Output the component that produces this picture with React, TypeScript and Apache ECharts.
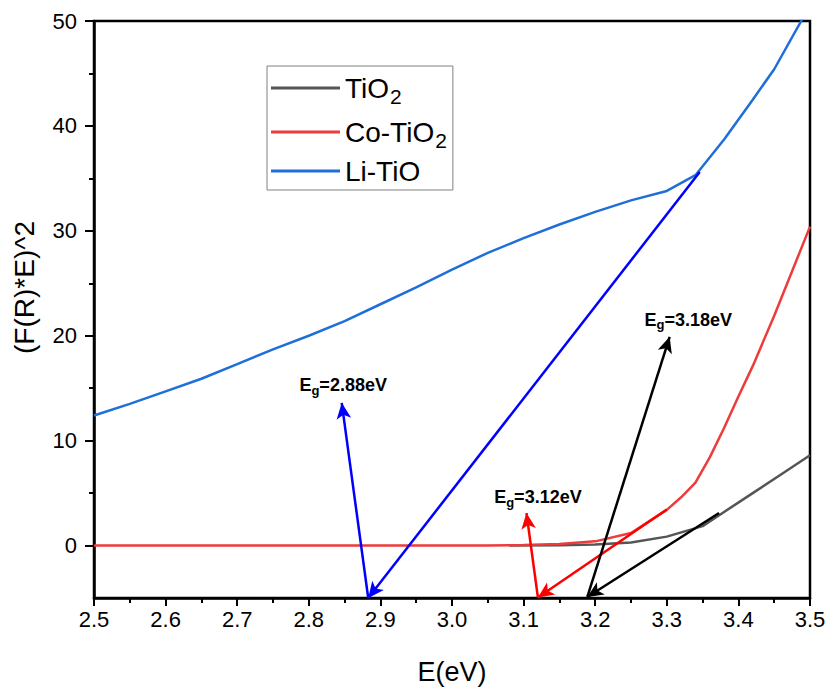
import React, { useEffect, useRef } from 'react';
import * as echarts from 'echarts';

// Li-TiO
const liE = [2.50, 2.55, 2.60, 2.65, 2.70, 2.75, 2.80, 2.85, 2.90, 2.95, 3.00, 3.05, 3.10, 3.15, 3.20, 3.25, 3.30, 3.34, 3.38, 3.42, 3.45, 3.50];
const liY = [12.4, 13.5, 14.7, 15.9, 17.3, 18.7, 20.0, 21.4, 23.0, 24.6, 26.3, 27.9, 29.3, 30.6, 31.8, 32.9, 33.8, 35.3, 38.7, 42.5, 45.4, 51.5];
// Co-TiO2
const coE = [2.50, 2.60, 2.70, 2.80, 2.90, 3.00, 3.05, 3.10, 3.15, 3.20, 3.25, 3.30, 3.32, 3.34, 3.36, 3.38, 3.40, 3.42, 3.45, 3.50];
const coY = [0, 0, 0, 0, 0, 0, 0, 0.05, 0.15, 0.4, 1.2, 3.4, 4.6, 6.0, 8.4, 11.2, 14.2, 17.1, 21.9, 30.4];
// TiO2
const tiE = [3.08, 3.15, 3.20, 3.25, 3.30, 3.35, 3.38, 3.42, 3.46, 3.50];
const tiY = [0, 0.02, 0.1, 0.3, 0.85, 1.85, 3.2, 5.0, 6.8, 8.6];

const seriesNames = ['TiO2', 'Co-TiO2', 'Li-TiO'];

// annotation arrows: [x1, y1, x2, y2] (arrowhead at x2,y2)
const blueArrows = [[3.346, 35.6, 2.883, -5.0], [2.883, -5.0, 2.846, 13.6]];
const redArrows = [[3.300, 3.43, 3.120, -4.95], [3.120, -4.95, 3.104, 3.1]];
const blackArrows = [[3.373, 3.1, 3.189, -4.9], [3.189, -4.9, 3.304, 19.9]];

// band gap labels
const gapLabelE = [2.848, 3.120, 3.330];
const gapLabelY = [15.3, 4.6, 21.5];
const gapLabelText = ['2.88', '3.12', '3.18'];

const xTicksMajor = 0.1;
const yMajorTicks = [0, 10, 20, 30, 40, 50];
const yMinorTicks = [5, 15, 25, 35, 45];

const zip = (a: number[], b: number[]) => a.map((v, i) => [v, b[i]]);

const arrowItems = (arr: number[][], color: string) =>
  arr.map(([x1, y1, x2, y2]) => [
    { coord: [x1, y1], lineStyle: { color, width: 2.5, type: 'solid', opacity: 1 }, itemStyle: { color, opacity: 1 } },
    { coord: [x2, y2], itemStyle: { color, opacity: 1 } },
  ]);

export default function App() {
  const ref = useRef<HTMLDivElement>(null);
  useEffect(() => {
    if (!ref.current) return;
    const chart = echarts.init(ref.current, undefined, { renderer: 'svg' });
    const font = 'Arial, "Liberation Sans", sans-serif';
    chart.setOption({
      animation: false,
      backgroundColor: '#ffffff',
      grid: { left: 94, right: 20, top: 21, bottom: 91.5, show: true, borderColor: '#000', borderWidth: 2.5, containLabel: false },
      legend: {
        orient: 'vertical',
        left: 267,
        top: 66,
        data: seriesNames,
        icon: 'rect',
        itemWidth: 69,
        itemHeight: 3,
        itemGap: 6,
        padding: [3, 6, 5, 4],
        borderColor: '#808080',
        borderWidth: 1,
        formatter: (n: string) => (n.endsWith('TiO2') ? `{a|${n.slice(0, -1)}}{s|2}` : `{a|${n}}`),
        textStyle: {
          fontFamily: font,
          color: '#000',
          rich: {
            a: { fontSize: 28, lineHeight: 38, fontFamily: font, color: '#000' },
            s: { fontSize: 21, lineHeight: 21, padding: [17, 0, 0, 1], fontFamily: font, color: '#000' },
          },
        },
      },
      xAxis: {
        type: 'value',
        min: 2.5,
        max: 3.5,
        interval: xTicksMajor,
        name: 'E(eV)',
        nameLocation: 'middle',
        nameGap: 60,
        nameTextStyle: { fontSize: 27, fontFamily: font, color: '#000' },
        axisLine: { onZero: false, lineStyle: { color: '#000', width: 2.5 } },
        axisTick: { show: true, length: 8, lineStyle: { color: '#000', width: 2 } },
        minorTick: { show: true, splitNumber: 2, length: 5, lineStyle: { color: '#000', width: 2 } },
        axisLabel: { fontSize: 22, fontFamily: font, color: '#000', margin: 10, formatter: (v: number) => v.toFixed(1) },
        splitLine: { show: false },
      },
      yAxis: [
        {
          type: 'value',
          min: -5,
          max: 50,
          name: '(F(R)*E)^2',
          nameLocation: 'middle',
          nameGap: 56,
          nameTextStyle: { fontSize: 28, fontFamily: font, color: '#000', padding: [0, 0, 0, 44] },
          axisLine: { show: true, lineStyle: { color: '#000', width: 2.5 } },
          axisTick: { show: true, length: 9, customValues: yMajorTicks, lineStyle: { color: '#000', width: 2 } },
          axisLabel: { fontSize: 22, fontFamily: font, color: '#000', margin: 17, customValues: yMajorTicks },
          splitLine: { show: false },
        },
        {
          type: 'value',
          min: -5,
          max: 50,
          position: 'left',
          offset: 0,
          axisLine: { show: false },
          axisTick: { show: true, length: 5, customValues: yMinorTicks, lineStyle: { color: '#000', width: 2 } },
          axisLabel: { show: false, customValues: yMinorTicks },
          splitLine: { show: false },
        },
      ],
      series: [
        {
          name: 'TiO2', type: 'line', data: zip(tiE, tiY), showSymbol: false, symbol: 'none',
          lineStyle: { color: '#555555', width: 2.5 }, itemStyle: { color: '#555555' },
        },
        {
          name: 'Co-TiO2', type: 'line', data: zip(coE, coY), showSymbol: false, symbol: 'none',
          lineStyle: { color: '#EE3B3B', width: 2.5 }, itemStyle: { color: '#EE3B3B' },
        },
        {
          name: 'Li-TiO', type: 'line', data: zip(liE, liY), showSymbol: false, symbol: 'none', clip: true,
          lineStyle: { color: '#1F6FD8', width: 2.5 }, itemStyle: { color: '#1F6FD8' },
        },
        {
          name: 'labels', type: 'scatter', symbolSize: 0, silent: true,
          itemStyle: { opacity: 1, color: '#000' },
          data: gapLabelE.map((x, i) => ({ value: [x, gapLabelY[i]], name: gapLabelText[i] })),
          label: {
            show: true,
            position: 'inside',
            color: '#000',
            opacity: 1,
            textBorderWidth: 0,
            formatter: (p: any) => `{e|E}{g|g}{e|=${p.name}eV}`,
            rich: {
              e: { fontSize: 18, fontWeight: 'bold', fontFamily: font, color: '#000', lineHeight: 24, textBorderWidth: 0 },
              g: { fontSize: 13, fontWeight: 'bold', fontFamily: font, color: '#000', lineHeight: 13, padding: [10, 0, 0, 0], textBorderWidth: 0 },
            },
          },
          markLine: {
            silent: true,
            symbol: ['none', 'arrow'],
            symbolSize: [11, 16],
            label: { show: false },
            precision: 3,
            data: [
              ...arrowItems(blueArrows, '#0000FF'),
              ...arrowItems(redArrows, '#FF0000'),
              ...arrowItems(blackArrows, '#000000'),
            ],
          },
        },
      ],
    });
    return () => chart.dispose();
  }, []);
  return <div ref={ref} style={{ position: 'absolute', left: 0, top: 0, width: 830, height: 690 }} />;
}
